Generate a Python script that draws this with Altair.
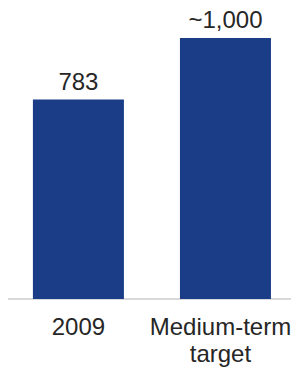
import altair as alt
import pandas as pd

categories = ["2009", "Medium-term|target"]
values = [783, 1025]
labels = ["783", "~1,000"]

df = pd.DataFrame({"cat": categories, "value": values, "label": labels})
base_df = pd.DataFrame({"cat": [categories[0]]})

FONT = "Liberation Sans"
x = alt.X(
    "cat:N",
    sort=categories,
    title=None,
    scale=alt.Scale(paddingInner=0.381, paddingOuter=0.146, align=0.58),
    axis=alt.Axis(
        labelAngle=0,
        labelExpr="split(datum.label, '|')",
        labelFontSize=24,
        labelFont=FONT,
        labelColor="#262626",
        labelLineHeight=27,
        labelPadding=16,
        labelOffset={"condition": {"test": "datum.value == '2009'", "value": 0}, "value": -5},
        ticks=False,
        domain=False,
        grid=False,
    ),
)
y = alt.Y("value:Q", axis=None, scale=alt.Scale(domain=[0, 1025], nice=False))

bars = alt.Chart(df).mark_bar(color="#1b3d87").encode(x=x, y=y)
text = alt.Chart(df).mark_text(
    baseline="alphabetic", dy=-10, fontSize=24, font=FONT, color="#262626"
).encode(x=x, y=y, text="label:N")
baseline = alt.Chart(base_df).mark_rule(color="#d9d9d9", strokeWidth=2).encode(
    x=alt.value(-1), x2=alt.value(283), y=alt.value(261)
)

chart = (
    alt.layer(baseline, bars, text)
    .properties(
        width=281,
        height=261,
        autosize=alt.AutoSizeParams(type="none"),
        padding={"left": 0, "right": 2, "top": 30, "bottom": 70},
    )
    .configure_view(stroke=None)
)

chart.save("out.html", embed_options={"renderer": "svg", "actions": False})
